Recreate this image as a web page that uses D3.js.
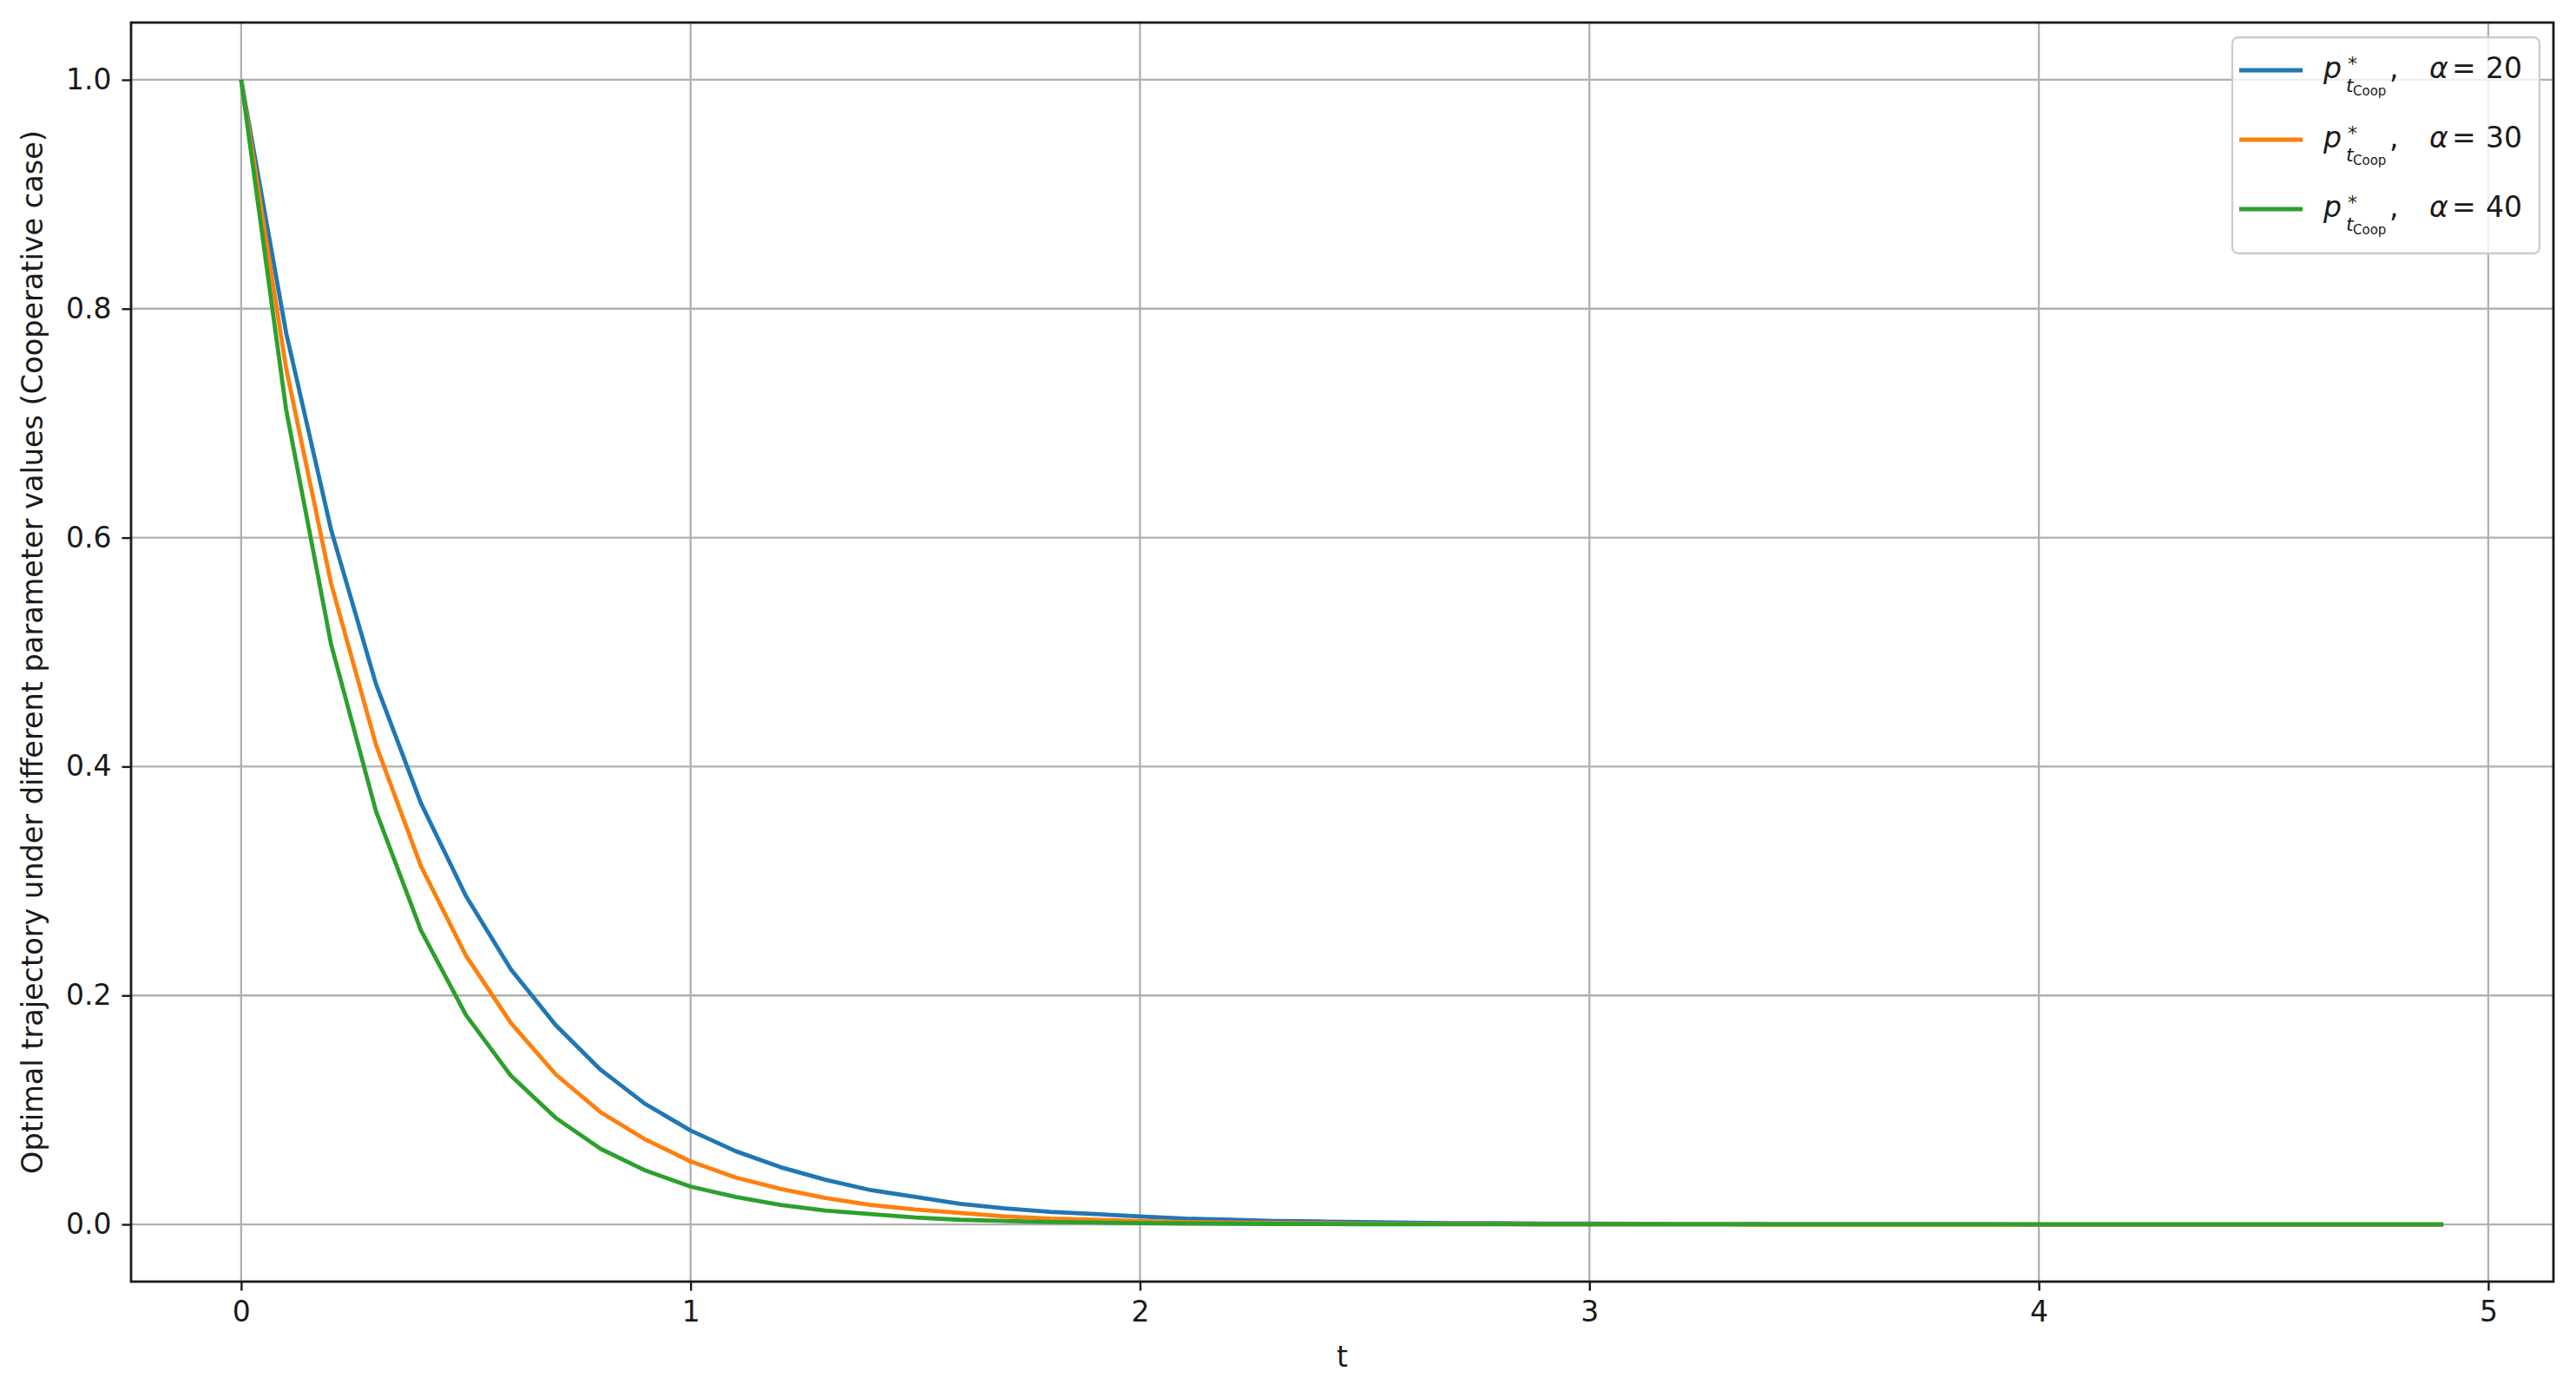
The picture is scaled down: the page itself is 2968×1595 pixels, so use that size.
<!DOCTYPE html>
<html>
<head>
<meta charset="utf-8">
<script src="https://cdn.jsdelivr.net/npm/d3@7"></script>
<style>
  body { margin: 0; background: #fff; }
  text { font-family: "DejaVu Sans", sans-serif; fill: #1a1a1a; }
</style>
</head>
<body>
<div id="chart"></div>
<script>
// sampled times t = 0 ... 4.9
var times = [0.0, 0.1, 0.2, 0.3, 0.4, 0.5, 0.6, 0.7, 0.8, 0.9,
             1.0, 1.1, 1.2, 1.3, 1.4, 1.5, 1.6, 1.7, 1.8, 1.9,
             2.0, 2.1, 2.2, 2.3, 2.4, 2.5, 2.6, 2.7, 2.8, 2.9,
             3.0, 3.1, 3.2, 3.3, 3.4, 3.5, 3.6, 3.7, 3.8, 3.9,
             4.0, 4.1, 4.2, 4.3, 4.4, 4.5, 4.6, 4.7, 4.8, 4.9];

var alpha20 = [1.000, 0.779, 0.607, 0.472, 0.368, 0.287, 0.223, 0.174, 0.135, 0.105,
               0.082, 0.064, 0.050, 0.039, 0.030, 0.024, 0.018, 0.014, 0.011, 0.009,
               0.007, 0.005, 0.004, 0.003, 0.0025, 0.002, 0.0015, 0.001, 0.001, 0.0007,
               0.0006, 0.0004, 0.0003, 0.0003, 0.0002, 0.0002, 0.0001, 0.0001, 0.0001, 0.0001,
               0.0, 0.0, 0.0, 0.0, 0.0, 0.0, 0.0, 0.0, 0.0, 0.0];

var alpha30 = [1.000, 0.748, 0.560, 0.419, 0.313, 0.235, 0.176, 0.131, 0.098, 0.074,
               0.055, 0.041, 0.031, 0.023, 0.017, 0.013, 0.010, 0.007, 0.005, 0.004,
               0.003, 0.002, 0.0017, 0.0013, 0.001, 0.0007, 0.0005, 0.0004, 0.0003, 0.0002,
               0.0002, 0.0001, 0.0001, 0.0001, 0.0, 0.0, 0.0, 0.0, 0.0, 0.0,
               0.0, 0.0, 0.0, 0.0, 0.0, 0.0, 0.0, 0.0, 0.0, 0.0];

var alpha40 = [1.000, 0.712, 0.507, 0.361, 0.257, 0.183, 0.130, 0.093, 0.066, 0.047,
               0.033, 0.024, 0.017, 0.012, 0.009, 0.006, 0.004, 0.003, 0.002, 0.0016,
               0.0011, 0.0008, 0.0006, 0.0004, 0.0003, 0.0002, 0.0002, 0.0001, 0.0001, 0.0,
               0.0, 0.0, 0.0, 0.0, 0.0, 0.0, 0.0, 0.0, 0.0, 0.0,
               0.0, 0.0, 0.0, 0.0, 0.0, 0.0, 0.0, 0.0, 0.0, 0.0];

var alphaLabels = ["20", "30", "40"];
var colors = ["#1f77b4", "#ff7f0e", "#2ca02c"];
var xTicks = [0, 1, 2, 3, 4, 5];
var yTicks = [0.0, 0.2, 0.4, 0.6, 0.8, 1.0];

var svgWidth = 2968;
var svgHeight = 1595;

var margin = { top: 26, right: 26, bottom: 118, left: 151 };
var width = svgWidth - margin.left - margin.right;
var height = svgHeight - margin.top - margin.bottom;

var svg = d3.select("#chart")
    .append("svg")
    .attr("width", svgWidth)
    .attr("height", svgHeight);

var chartGroup = svg.append("g")
    .attr("transform", `translate(${margin.left}, ${margin.top})`);

var xScale = d3.scaleLinear()
    .domain([-0.245, 5.145])
    .range([0, width]);

var yScale = d3.scaleLinear()
    .domain([-0.05, 1.05])
    .range([height, 0]);

/********************************************************/

// grid
chartGroup.append("g")
    .selectAll("line")
    .data(xTicks)
    .enter()
    .append("line")
    .attr("x1", d => xScale(d)).attr("x2", d => xScale(d))
    .attr("y1", 0).attr("y2", height)
    .attr("stroke", "#b0b0b0")
    .attr("stroke-width", 2.3);

chartGroup.append("g")
    .selectAll("line")
    .data(yTicks)
    .enter()
    .append("line")
    .attr("x1", 0).attr("x2", width)
    .attr("y1", d => yScale(d)).attr("y2", d => yScale(d))
    .attr("stroke", "#b0b0b0")
    .attr("stroke-width", 2.3);

/********************************************************/

var series = [alpha20, alpha30, alpha40];

var line = d3.line()
    .x((d, i) => xScale(times[i]))
    .y(d => yScale(d));

chartGroup.selectAll(".series")
    .data(series)
    .enter()
    .append("path")
    .attr("class", "series")
    .attr("d", d => line(d))
    .attr("fill", "none")
    .attr("stroke", (d, i) => colors[i])
    .attr("stroke-width", 4.8)
    .attr("stroke-linejoin", "round");

/********************************************************/

var bottomAxis = d3.axisBottom(xScale)
    .tickValues(xTicks)
    .tickFormat(d3.format("d"))
    .tickSize(10.5)
    .tickPadding(12);

var leftAxis = d3.axisLeft(yScale)
    .tickValues(yTicks)
    .tickFormat(d3.format(".1f"))
    .tickSize(10.5)
    .tickPadding(12);

var xAxisG = chartGroup.append("g")
    .attr("transform", `translate(0, ${height})`)
    .call(bottomAxis);

var yAxisG = chartGroup.append("g")
    .call(leftAxis);

[xAxisG, yAxisG].forEach(function (g) {
    g.select(".domain").remove();
    g.selectAll(".tick line").attr("stroke", "#1a1a1a").attr("stroke-width", 2.4);
    g.selectAll(".tick text")
        .attr("font-size", 33)
        .attr("font-family", "DejaVu Sans")
        .attr("fill", "#1a1a1a");
});

// frame
chartGroup.append("rect")
    .attr("x", 0).attr("y", 0)
    .attr("width", width).attr("height", height)
    .attr("fill", "none")
    .attr("stroke", "#1a1a1a")
    .attr("stroke-width", 2.8);

/********************************************************/

chartGroup.append("text")
    .attr("transform", "rotate(-90)")
    .attr("x", 0 - (height / 2))
    .attr("y", 0 - margin.left + 49)
    .attr("text-anchor", "middle")
    .attr("font-size", 33.5)
    .text("Optimal trajectory under different parameter values (Cooperative case)");

chartGroup.append("text")
    .attr("x", width / 2)
    .attr("y", height + 98)
    .attr("text-anchor", "middle")
    .attr("font-size", 33)
    .text("t");

/********************************************************/

// legend
var legend = svg.append("g");

legend.append("rect")
    .attr("x", 2572).attr("y", 43)
    .attr("width", 354).attr("height", 249)
    .attr("rx", 7)
    .attr("fill", "#fff")
    .attr("fill-opacity", 0.8)
    .attr("stroke", "#cccccc")
    .attr("stroke-width", 2.3);

var rows = legend.selectAll(".row")
    .data(alphaLabels)
    .enter()
    .append("g")
    .attr("class", "row")
    .attr("transform", (d, i) => `translate(0, ${i * 80})`);

rows.append("line")
    .attr("x1", 2580).attr("x2", 2653)
    .attr("y1", 81).attr("y2", 81)
    .attr("stroke", (d, i) => colors[i])
    .attr("stroke-width", 4.8);

rows.append("text").attr("x", 2677).attr("y", 90)
    .attr("font-size", 33).attr("font-style", "italic").text("p");
rows.append("text").attr("x", 2705).attr("y", 81)
    .attr("font-size", 22).text("*");
rows.append("text").attr("x", 2703).attr("y", 106)
    .attr("font-size", 22).attr("font-style", "italic").text("t");
rows.append("text").attr("x", 2711).attr("y", 110)
    .attr("font-size", 15).text("Coop");
rows.append("text").attr("x", 2753).attr("y", 90)
    .attr("font-size", 33).text(",");
rows.append("text").attr("x", 2799).attr("y", 90)
    .attr("font-size", 33).attr("font-style", "italic").text("α");
rows.append("text").attr("x", 2825).attr("y", 90)
    .attr("font-size", 33).text("=");
rows.append("text").attr("x", 2864).attr("y", 90)
    .attr("font-size", 33).text(d => d);
</script>
</body>
</html>
